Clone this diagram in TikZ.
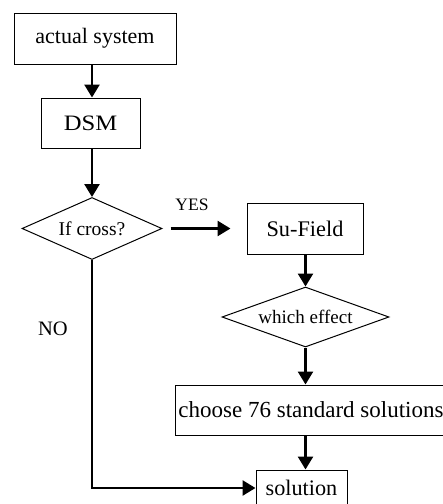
\documentclass[tikz,border=0pt]{standalone}
\usepackage{fontspec}
\usepackage{graphicx}
\setmainfont{Liberation Serif}
\usetikzlibrary{shapes.geometric,arrows.meta,calc}
\begin{document}
\begin{tikzpicture}[x=1pt,y=-1pt,
  box/.style={draw,line width=1pt,inner sep=0pt,minimum width=#1},
  dia/.style={draw,diamond,line width=1pt,inner sep=0pt},
  arr/.style={line width=2.6pt,-{Triangle[length=13pt,width=15pt]}},
  thinline/.style={line width=1.3pt},
  fs/.style={font=\fontsize{#1}{#1}\selectfont}]
\useasboundingbox (0,0) rectangle (443,504);
\clip (0,0) rectangle (443,504);
\node[box=162,minimum height=51,fs=22] (A) at (95,38.5) {actual system};
\node[box=99,minimum height=50,fs=22] (D) at (90.5,123) {\scalebox{1.12}[1]{DSM}};
\node[dia,shape aspect=2.26,minimum width=140,minimum height=62,fs=19.5] (I) at (92,228.5) {If cross?};
\node[box=116,minimum height=51,fs=22.3] (F) at (305,228.5) {Su-Field};
\node[dia,shape aspect=2.78,minimum width=167,minimum height=60,fs=19] (W) at (305.5,317) {which effect};
\node[box=272,minimum height=50,fs=23] (C) at (311,410) {choose 76 standard solutions};
\node[box=91,minimum height=36,fs=22.2] (S) at (301.5,488) {solution};
\node[fs=17.5,inner sep=0pt] (yes) at (192,205) {YES};
\node[fs=20.5,inner sep=0pt] (no) at (53,329) {NO};
\coordinate (corner) at (I.south |- S.west);
\coordinate (ys) at ($(I.east)+(8,0)$);
\coordinate (ye) at ($(F.west)+(-16,0)$);
\draw[arr] (A.south -| I.north) -- (D.north -| I.north);
\draw[arr] (D.south -| I.north) -- (I.north);
\draw[arr] (ys) -- (ye);
\draw[arr] (F.south -| W.north) -- (W.north);
\draw[arr] (W.south) -- (C.north -| W.south);
\draw[arr] (C.south -| W.south) -- (S.north -| W.south);
\draw[thinline] (I.south) -- (corner);
\draw[arr] ([xshift=-0.65pt]corner) -- (S.west);
\end{tikzpicture}
\end{document}
